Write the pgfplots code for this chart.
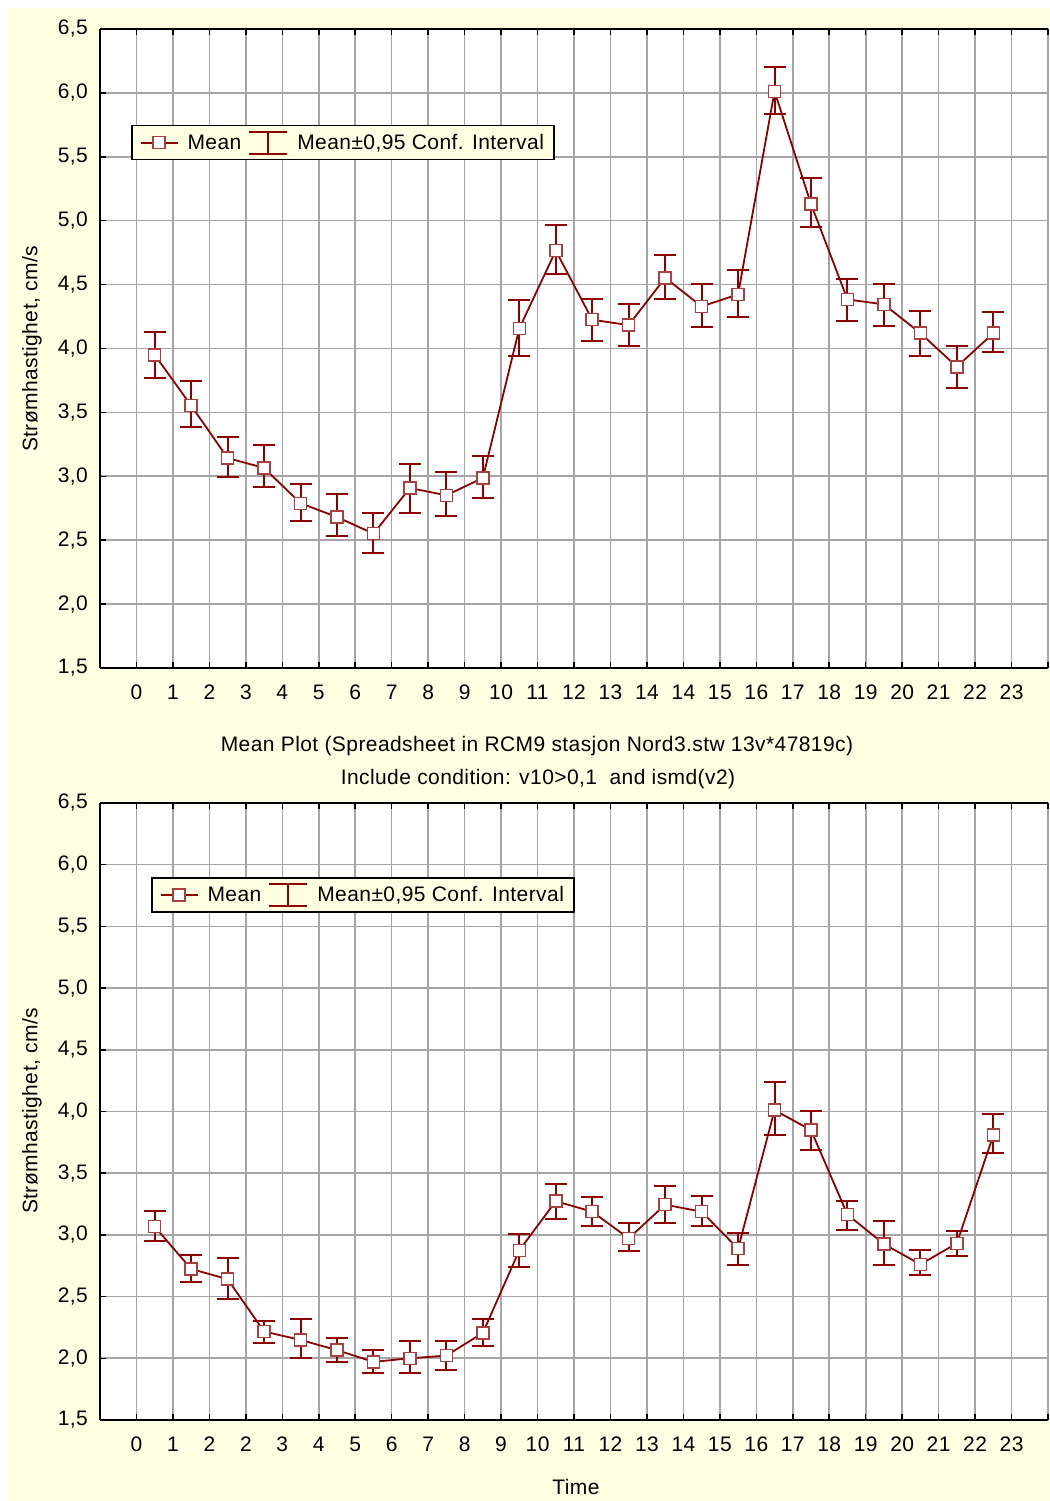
\documentclass[border=0pt]{standalone}
\usepackage{pgfplots}
\pgfplotsset{compat=1.18}
\usepackage{pgfplotstable}
\usepackage{fontspec}
\setmainfont{Liberation Sans}[LetterSpace=2]
\definecolor{cream}{RGB}{255,255,225}
\definecolor{dred}{RGB}{140,0,0}
\definecolor{gridc}{RGB}{165,165,165}
\newcommand\cf{\fontsize{21}{25}\selectfont}

\pgfplotstableread{
x y ep em
1.5 3.950 0.177 0.180
2.5 3.553 0.190 0.165
3.5 3.143 0.167 0.151
4.5 3.065 0.178 0.151
5.5 2.789 0.151 0.136
6.5 2.681 0.181 0.151
7.5 2.551 0.164 0.151
8.5 2.908 0.188 0.193
9.5 2.851 0.180 0.164
10.5 2.987 0.174 0.154
11.5 4.157 0.219 0.214
12.5 4.765 0.203 0.180
13.5 4.225 0.164 0.167
14.5 4.183 0.164 0.162
15.5 4.553 0.178 0.164
16.5 4.329 0.175 0.164
17.5 4.423 0.190 0.180
18.5 6.012 0.192 0.178
19.5 5.130 0.206 0.178
20.5 4.384 0.161 0.167
21.5 4.345 0.161 0.167
22.5 4.120 0.173 0.177
23.5 3.857 0.164 0.167
24.5 4.120 0.162 0.151
}\topdata

\pgfplotstableread{
x y ep em
1.5 3.067 0.127 0.118
2.5 2.724 0.114 0.102
3.5 2.641 0.173 0.157
4.5 2.217 0.086 0.090
5.5 2.149 0.173 0.146
6.5 2.066 0.099 0.093
7.5 1.971 0.097 0.087
8.5 2.000 0.141 0.116
9.5 2.022 0.119 0.114
10.5 2.206 0.113 0.103
11.5 2.875 0.130 0.133
12.5 3.273 0.140 0.146
13.5 3.188 0.117 0.116
14.5 2.972 0.125 0.105
15.5 3.245 0.155 0.146
16.5 3.188 0.128 0.116
17.5 2.888 0.128 0.130
18.5 4.011 0.227 0.200
19.5 3.849 0.154 0.157
20.5 3.164 0.111 0.122
21.5 2.926 0.187 0.168
22.5 2.761 0.117 0.084
23.5 2.932 0.097 0.106
24.5 3.808 0.171 0.146
}\botdata

\pgfplotsset{
 meanstyle/.style={
  scale only axis, width=948pt,
  xmin=0, xmax=26, ymin=1.5, ymax=6.5,
  axis x line*=box, axis y line*=left,
  xtick={0,1,...,26},
  ytick={1.5,2.0,2.5,3.0,3.5,4.0,4.5,5.0,5.5,6.0,6.5},
  grid=major, major grid style={draw=gridc, line width=1.6pt},
  tick align=inside, major tick length=6pt,
  tick style={black, line width=1.5pt},
  axis line style={black, line width=1.8pt},
  axis background/.style={fill=white},
  /pgf/number format/assume math mode=true,
  y tick label style={font=\cf, inner sep=0pt, xshift=-12pt,
    /pgf/number format/.cd, fixed, fixed zerofill, precision=1, use comma},
  x tick label style={font=\cf, inner sep=0pt, anchor=north, yshift=-17pt},
  legend columns=2,
  legend style={draw=black, line width=1.5pt, fill=cream, font=\cf,
    anchor=north west, inner xsep=8pt, inner ysep=5pt,
    /tikz/every odd column/.append style={column sep=7pt},
    /tikz/every even column/.append style={column sep=5pt}},
  legend image code/.code={\draw[mark repeat=2,mark phase=2,#1] plot coordinates {(0pt,0pt) (18.5pt,0pt) (37pt,0pt)};},
 },
 meanplot/.style={dred, line width=1.8pt, mark=square*, mark size=6pt,
   mark options={fill=white, draw=dred!75, line width=1.5pt, solid},
   error bars/.cd, y dir=both, y explicit,
   error bar style={line width=2pt, dred},
   error mark options={rotate=90, mark size=11pt, line width=2pt, dred}},
 cilegend/.style={legend image code/.code={\draw[dred,line width=2pt] (0pt,11pt)--(38pt,11pt) (0pt,-11pt)--(38pt,-11pt) (19pt,-11pt)--(19pt,11pt);}},
}

\begin{document}
\begin{tikzpicture}
\fill[white] (0pt,0pt) rectangle (1049pt,1501pt);
\fill[cream] (8pt,0pt) rectangle (1049pt,1493pt);

\begin{axis}[meanstyle, at={(100pt,833pt)}, anchor=south west, height=639pt,
  xticklabels={{},0,1,2,3,4,5,6,7,8,9,10,11,12,13,14,14,15,16,17,18,19,20,21,22,23,{}},
  legend style={at={(rel axis cs:0.0327,0.8498)}}]
\addplot[meanplot] table[x=x, y=y, y error plus=ep, y error minus=em] {\topdata};
\addlegendentry{Mean}
\addlegendimage{cilegend}
\addlegendentry{Mean±0,95 Conf.\hspace{0.4em}Interval}
\end{axis}

\begin{axis}[meanstyle, at={(100pt,81pt)}, anchor=south west, height=617pt,
  xticklabels={{},0,1,2,2,3,4,5,6,7,8,9,10,11,12,13,14,15,16,17,18,19,20,21,22,23,{}},
  legend style={at={(rel axis cs:0.0538,0.880)}}]
\addplot[meanplot] table[x=x, y=y, y error plus=ep, y error minus=em] {\botdata};
\addlegendentry{Mean}
\addlegendimage{cilegend}
\addlegendentry{Mean±0,95 Conf.\hspace{0.4em}Interval}
\end{axis}

\node[font=\cf, rotate=90] at (32pt,1152pt) {Strømhastighet, cm/s};
\node[font=\cf, rotate=90] at (32pt,390pt) {Strømhastighet, cm/s};
\node[font=\cf] at (537pt,755pt) {Mean Plot (Spreadsheet in RCM9 stasjon Nord3.stw 13v*47819c)};
\node[font=\cf] at (538pt,722pt) {Include condition: v10>0,1\ \ and ismd(v2)};
\node[font=\cf] at (576pt,14pt) {Time};

\pgfresetboundingbox
\path[use as bounding box] (0pt,0pt) rectangle (1049pt,1501pt);
\end{tikzpicture}
\end{document}
